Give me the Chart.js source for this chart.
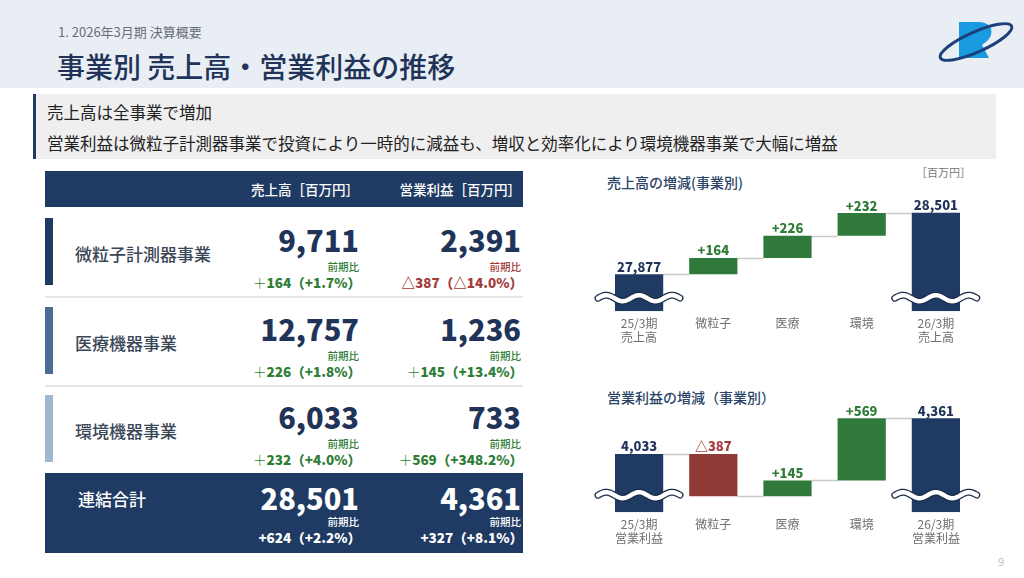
<!DOCTYPE html>
<html lang="ja">
<head>
<meta charset="UTF-8">
<title>事業別 売上高・営業利益の推移</title>
<script src="https://cdn.jsdelivr.net/npm/chart.js"></script>
<style>
  body { margin: 0; background: #fff; }
  #slide { position: relative; width: 1024px; height: 578px; overflow: hidden; background: #fff;
           font-family: 'Noto Sans CJK JP', 'Noto Sans', sans-serif; color: #222; }
  .t { position: absolute; white-space: nowrap; line-height: 1; transform: translateY(-50%); }
  .box { position: absolute; }
  canvas { position: absolute; }
</style>
</head>
<body>
<div id="slide">
  <!-- ヘッダー -->
  <div class="box" style="left:0;top:0;width:1024px;height:88px;background:#e9eef5;"></div>
  <div class="t" style="left:58px;top:31px;font-size:13px;color:#6b6f75;">1. 2026年3月期 決算概要</div>
  <div class="t" style="left:57px;top:66px;font-size:28px;font-weight:500;color:#1f3458;">事業別 売上高・営業利益の推移</div>
  <svg class="box" style="left:934px;top:18px;" width="84" height="46" viewBox="0 0 84 46">
    <path d="M25 4 H44 C55 4 59 10 57 17 C55 23 50 25 48 27 L55 40 H25 Z" fill="#1a9ae0"/>
    <ellipse cx="42" cy="24" rx="39" ry="10" transform="rotate(-24 42 24)" fill="none" stroke="#1d3f7a" stroke-width="3"/>
  </svg>

  <!-- サマリー -->
  <div class="box" style="left:33px;top:94px;width:960px;height:65px;background:#efefef;border-left:3px solid #1f3b63;"></div>
  <div class="t" style="left:47px;top:112px;font-size:16.5px;color:#222;">売上高は全事業で増加</div>
  <div class="t" style="left:47px;top:143px;font-size:16.5px;color:#222;">営業利益は微粒子計測器事業で投資により一時的に減益も、増収と効率化により環境機器事業で大幅に増益</div>

  <!-- 表ヘッダー -->
  <div class="box" style="left:45px;top:171px;width:478px;height:36px;background:#1f3b63;"></div>
  <div class="t" style="right:665px;top:190px;font-size:13.5px;font-weight:500;color:#fff;">売上高［百万円］</div>
  <div class="t" style="right:503px;top:190px;font-size:13.5px;font-weight:500;color:#fff;">営業利益［百万円］</div>
  <div class="box" style="left:45px;top:296px;width:478px;height:2px;background:#e4e6e9;"></div>
  <div class="box" style="left:45px;top:385px;width:478px;height:2px;background:#e4e6e9;"></div>
  <div class="box" style="left:45px;top:473px;width:478px;height:80px;background:#1f3b63;"></div>

  <!-- グラフ -->
  <div class="t" style="left:607px;top:182px;font-size:14px;font-weight:500;color:#2a4468;">売上高の増減(事業別)</div>
  <div class="t" style="left:916px;top:172px;font-size:11px;color:#777;">［百万円］</div>
  <canvas id="salesChart" width="395" height="170" style="left:590px;top:190px;width:395px;height:170px;"></canvas>
  <div class="t" style="left:607px;top:397px;font-size:14px;font-weight:500;color:#2a4468;">営業利益の増減（事業別）</div>
  <canvas id="profitChart" width="395" height="171" style="left:590px;top:390px;width:395px;height:171px;"></canvas>

  <div class="t" style="left:998px;top:561px;font-size:11px;color:#c4c4c4;">9</div>
</div>

<script>
// 表のデータ
const segments   = ['微粒子計測器事業', '医療機器事業', '環境機器事業', '連結合計'];
const salesNow   = [9711, 12757, 6033, 28501];
const salesDiff  = [164, 226, 232, 624];
const salesPct   = [1.7, 1.8, 4.0, 2.2];
const profitNow  = [2391, 1236, 733, 4361];
const profitDiff = [-387, 145, 569, 327];
const profitPct  = [-14.0, 13.4, 348.2, 8.1];

// 増減グラフのデータ（先頭と末尾は合計、間は増減）
const salesLabels  = [['25/3期', '売上高'], '微粒子', '医療', '環境', ['26/3期', '売上高']];
const salesValues  = [27877, 164, 226, 232, 28501];
const salesAxis    = [27500, 28632];
const profitLabels = [['25/3期', '営業利益'], '微粒子', '医療', '環境', ['26/3期', '営業利益']];
const profitValues = [4033, -387, 145, 569, 4361];
const profitAxis   = [3500, 4528];

const NAVY = '#1f3b63', GREEN = '#2f7a3b', RED = '#8f3a37';
const LBL_GREEN = '#2e7d36', LBL_RED = '#a33b39';
const fmt = v => v.toLocaleString('en-US');

// 表を組み立てる
const slide = document.getElementById('slide');
function addText(html, css) {
  const d = document.createElement('div');
  d.className = 't';
  d.innerHTML = html;
  Object.assign(d.style, css);
  slide.appendChild(d);
}
const rowTops = [218, 307, 395, 473];
const sideColors = ['#1f3b63', '#4b6d92', '#a0b7cf'];
segments.forEach((name, i) => {
  const T = rowTops[i];
  const total = i === segments.length - 1;
  if (!total) {
    const b = document.createElement('div');
    b.className = 'box';
    Object.assign(b.style, { left: '45px', top: T + 'px', width: '8px', height: '67px', background: sideColors[i] });
    slide.appendChild(b);
  }
  addText(name, { left: total ? '78px' : '75px', top: (T + (total ? 25 : 35)) + 'px', fontSize: '17px',
                  fontWeight: '500', color: total ? '#fff' : '#3a4757' });
  [[salesNow, salesDiff, salesPct, 665], [profitNow, profitDiff, profitPct, 503]].forEach(([now, diff, pct, right]) => {
    const d = diff[i], p = pct[i];
    const col = total ? '#fff' : (d < 0 ? LBL_RED : LBL_GREEN);
    addText(fmt(now[i]), { right: right + 'px', top: (T + (total ? 24 : 21)) + 'px', fontSize: '29px',
                           fontWeight: '900', color: total ? '#fff' : '#1f3458' });
    addText('前期比', { right: right + 'px', top: (T + 49) + 'px', fontSize: '10.5px', fontWeight: '500', color: col });
    let txt;
    if (d < 0) txt = '△' + fmt(-d) + '（△' + (-p).toFixed(1) + '%）';
    else if (total) txt = '+' + fmt(d) + '（+' + p.toFixed(1) + '%）';
    else txt = '<span style="font-weight:300">＋</span>' + fmt(d) + '（+' + p.toFixed(1) + '%）';
    addText(txt, { right: (right - 2) + 'px', top: (T + 65) + 'px', fontSize: '13.5px', fontWeight: '900', color: col });
  });
});

// 増減グラフ
Chart.defaults.font.family = "'Noto Sans CJK JP', sans-serif";

function toRanges(values, min) {
  let cum = 0;
  return values.map((v, i) => {
    if (i === 0 || i === values.length - 1) { cum = v; return [min, v]; }
    const r = [cum, cum + v];
    cum += v;
    return r;
  });
}
function barColor(values, i) {
  if (i === 0 || i === values.length - 1) return NAVY;
  return values[i] < 0 ? RED : GREEN;
}
function labelText(values, i) {
  const v = values[i];
  if (i === 0 || i === values.length - 1) return fmt(v);
  return v < 0 ? '△' + fmt(-v) : '+' + fmt(v);
}
function labelColor(values, i) {
  if (i === 0 || i === values.length - 1) return '#1f3458';
  return values[i] < 0 ? LBL_RED : LBL_GREEN;
}

const waterfallPlugin = {
  id: 'waterfall',
  beforeDatasetsDraw(chart, args, opts) {
    // 棒と棒をつなぐ線
    const ctx = chart.ctx, bars = chart.getDatasetMeta(0).data, y = chart.scales.y;
    const values = opts.values;
    let cum = values[0];
    ctx.save();
    ctx.strokeStyle = '#c9c9c9';
    ctx.lineWidth = 1.5;
    for (let i = 0; i < bars.length - 1; i++) {
      const py = Math.round(y.getPixelForValue(cum)) + 0.5;
      ctx.beginPath();
      ctx.moveTo(bars[i].x + bars[i].width / 2, py);
      ctx.lineTo(bars[i + 1].x - bars[i + 1].width / 2, py);
      ctx.stroke();
      cum += values[i + 1];
    }
    ctx.restore();
  },
  afterDatasetsDraw(chart, args, opts) {
    const ctx = chart.ctx, bars = chart.getDatasetMeta(0).data;
    const values = opts.values;
    ctx.save();
    // 省略記号（波線）
    const yb = chart.chartArea.bottom - opts.breakOffset;
    [0, bars.length - 1].forEach(i => {
      const b = bars[i];
      const x0 = b.x - b.width / 2 - 17, x1 = b.x + b.width / 2 + 17;
      ctx.beginPath();
      for (let x = x0; x <= x1; x += 1) {
        const yy = yb - 3 * Math.sin((x - x0) / (x1 - x0) * Math.PI * 5);
        if (x === x0) ctx.moveTo(x, yy); else ctx.lineTo(x, yy);
      }
      ctx.lineCap = 'round';
      ctx.strokeStyle = '#1b2d48';
      ctx.lineWidth = 7;
      ctx.stroke();
      ctx.strokeStyle = '#fff';
      ctx.lineWidth = 4.5;
      ctx.stroke();
    });
    // 数値ラベル
    ctx.font = "900 13px 'Noto Sans CJK JP'";
    ctx.textAlign = 'center';
    ctx.textBaseline = 'bottom';
    bars.forEach((b, i) => {
      const top = Math.min(b.y, b.base);
      ctx.fillStyle = labelColor(values, i);
      ctx.fillText(labelText(values, i), b.x, top - 1);
    });
    ctx.restore();
  }
};

function makeWaterfall(id, labels, values, axis, breakOffset) {
  return new Chart(document.getElementById(id), {
    type: 'bar',
    data: {
      labels: labels,
      datasets: [{
        data: toRanges(values, axis[0]),
        backgroundColor: values.map((v, i) => barColor(values, i)),
        borderWidth: 0,
        barPercentage: 0.65,
        categoryPercentage: 1.0
      }]
    },
    options: {
      responsive: false,
      animation: false,
      layout: { padding: { left: 12, right: 12, top: 10, bottom: 10 } },
      plugins: {
        legend: { display: false },
        tooltip: { enabled: false },
        waterfall: { values: values, breakOffset: breakOffset }
      },
      scales: {
        x: {
          grid: { display: false, drawTicks: false },
          border: { display: false },
          ticks: { color: '#6f6f6f', font: { size: 12, lineHeight: 1.2 }, padding: 5,
                   maxRotation: 0, autoSkip: false }
        },
        y: { display: false, min: axis[0], max: axis[1] }
      }
    },
    plugins: [waterfallPlugin]
  });
}

makeWaterfall('salesChart', salesLabels, salesValues, salesAxis, 13);
makeWaterfall('profitChart', profitLabels, profitValues, profitAxis, 17);
</script>
</body>
</html>
